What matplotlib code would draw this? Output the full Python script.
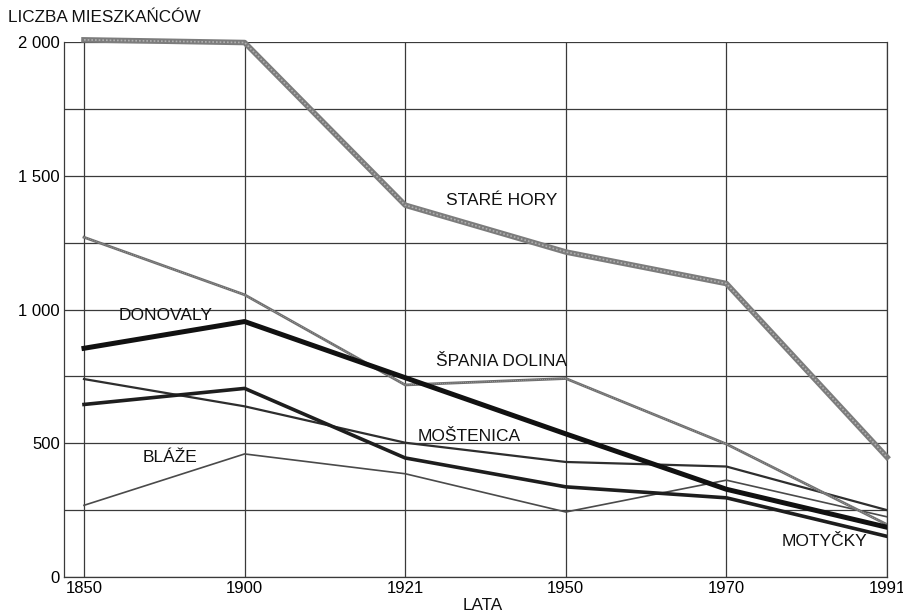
import matplotlib
matplotlib.use("Agg")
import matplotlib.pyplot as plt

years = ["1850", "1900", "1921", "1950", "1970", "1991"]
stare_hory = [2008, 1998, 1390, 1215, 1097, 448]
spania_dolina = [1270, 1055, 718, 742, 497, 196]
donovaly = [855, 955, 745, 535, 328, 186]
motycky = [645, 705, 445, 337, 296, 152]
mostenica = [740, 638, 502, 430, 413, 250]
blaze = [268, 460, 386, 243, 362, 225]

y_ticks = [0, 500, 1000, 1500, 2000]
y_tick_labels = ["0", "500", "1 000", "1 500", "2 000"]

plt.rcParams['font.family'] = ['Liberation Sans', 'DejaVu Sans']

fig = plt.figure(figsize=(9.04, 6.14), dpi=100)
ax = fig.add_axes([64/904, 1-577/614, (887-64)/904, (577-42)/614])

x = list(range(len(years)))

# grid
for v in range(0, 2001, 250):
    ax.axhline(v, color='#3a3a3a', lw=0.9, zorder=1)
for xi in x:
    ax.axvline(xi, color='#3a3a3a', lw=0.9, zorder=1)

ax.plot(x, blaze, color='#4a4a4a', lw=1.2, zorder=3)
ax.plot(x, mostenica, color='#2e2e2e', lw=1.6, zorder=3)
ax.plot(x, motycky, color='#1e1e1e', lw=2.6, zorder=3)
ax.plot(x, spania_dolina, color='#6e6e6e', lw=2.0, zorder=4)
ax.plot(x, spania_dolina, color='#a8a8a8', lw=0.6, ls=(0, (1, 1.5)), zorder=4)
ax.plot(x, donovaly, color='#111111', lw=3.6, zorder=5)
ax.plot(x, stare_hory, color='#7c7c7c', lw=4.0, zorder=5, clip_on=False)
ax.plot(x, stare_hory, color='#b0b0b0', lw=1.2, ls=(0, (1, 1.2)), zorder=6, clip_on=False)

fs = 12.5
ax.text(2.60, 1409, "STARÉ HORY", ha='center', va='center', fontsize=fs, color='#111')
ax.text(0.51, 976, "DONOVALY", ha='center', va='center', fontsize=fs, color='#111')
ax.text(2.60, 804, "ŠPANIA DOLINA", ha='center', va='center', fontsize=fs, color='#111')
ax.text(2.40, 527, "MOŠTENICA", ha='center', va='center', fontsize=fs, color='#111')
ax.text(0.535, 445, "BLÁŽE", ha='center', va='center', fontsize=fs, color='#111')
ax.text(4.61, 131, "MOTYČKY", ha='center', va='center', fontsize=fs, color='#111')

ax.set_xlim(-20/160.6, 5)
ax.set_ylim(0, 2000)
ax.set_xticks(x)
ax.set_xticklabels(years, fontsize=12)
ax.set_yticks(y_ticks)
ax.set_yticklabels(y_tick_labels, fontsize=12)
ax.tick_params(length=0, pad=3)
ax.spines['top'].set_visible(False)
for s in ['left', 'bottom', 'right']:
    ax.spines[s].set_color('#3a3a3a')
    ax.spines[s].set_linewidth(0.9)

fig.text(8/904, 1-18/614, "LICZBA MIESZKAŃCÓW", ha='left', va='center', fontsize=12.3, color='#111')
fig.text(483/904, 1-605/614, "LATA", ha='center', va='center', fontsize=12.3, color='#111')

fig.savefig("out.png", dpi=100)
